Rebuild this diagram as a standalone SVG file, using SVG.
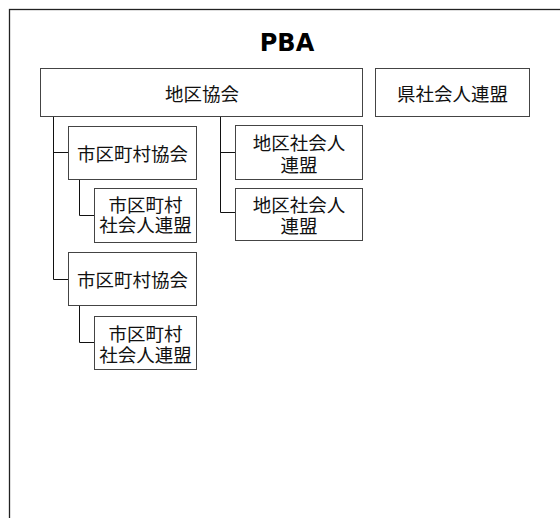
<svg xmlns="http://www.w3.org/2000/svg" width="560" height="518" viewBox="0 0 560 518">
<style>
.box{fill:#fff;stroke:#444;stroke-width:1}
.t{font-family:"Noto Sans CJK JP","Noto Sans CJK SC",sans-serif;font-size:18.5px;fill:#111;text-anchor:middle}
.c{fill:none;stroke:#111;stroke-width:1}
.title{font-family:"DejaVu Sans",sans-serif;font-weight:bold;font-size:24px;fill:#000;text-anchor:middle}
</style>
<rect x="0" y="0" width="560" height="518" fill="#fff"/>
<rect x="9.5" y="9.5" width="560" height="520" fill="none" stroke="#222" stroke-width="1.3"/>
<text class="title" x="287" y="51">PBA</text>
<g id="connectors">
<path class="c" d="M53.5,116.5V279.5M53.5,152.5H68.5M53.5,279.5H68.5"/>
<path class="c" d="M79.5,179.5V215.5H94.5"/>
<path class="c" d="M79.5,305.5V342.5H94.5"/>
<path class="c" d="M220.5,116.5V212.5M220.5,152.5H235.5M220.5,212.5H235.5"/>
</g>
<g id="chiku-kyokai">
<rect class="box" x="40.5" y="68.5" width="322" height="48"/>
<text class="t" x="202" y="100.5">地区協会</text>
</g>
<g id="ken-shakaijin">
<rect class="box" x="375.5" y="68.5" width="154" height="48"/>
<text class="t" x="452.5" y="100.5">県社会人連盟</text>
</g>
<g id="shikuchoson-kyokai-1">
<rect class="box" x="68.5" y="126.5" width="128" height="53"/>
<text class="t" x="132.5" y="160.5">市区町村協会</text>
</g>
<g id="shikuchoson-shakaijin-1">
<rect class="box" x="94.5" y="188.5" width="102" height="54"/>
<text class="t" x="145.5" y="211.5"><tspan x="145.5">市区町村</tspan><tspan x="145.5" dy="20.5">社会人連盟</tspan></text>
</g>
<g id="shikuchoson-kyokai-2">
<rect class="box" x="68.5" y="252.5" width="128" height="53"/>
<text class="t" x="132.5" y="287">市区町村協会</text>
</g>
<g id="shikuchoson-shakaijin-2">
<rect class="box" x="94.5" y="316.5" width="102" height="53"/>
<text class="t" x="145.5" y="340.5"><tspan x="145.5">市区町村</tspan><tspan x="145.5" dy="21">社会人連盟</tspan></text>
</g>
<g id="chiku-shakaijin-1">
<rect class="box" x="235.5" y="125.5" width="127" height="54"/>
<text class="t" x="299" y="150"><tspan x="299">地区社会人</tspan><tspan x="299" dy="21.5">連盟</tspan></text>
</g>
<g id="chiku-shakaijin-2">
<rect class="box" x="235.5" y="188.5" width="127" height="52"/>
<text class="t" x="299" y="211.5"><tspan x="299">地区社会人</tspan><tspan x="299" dy="21">連盟</tspan></text>
</g>
</svg>
